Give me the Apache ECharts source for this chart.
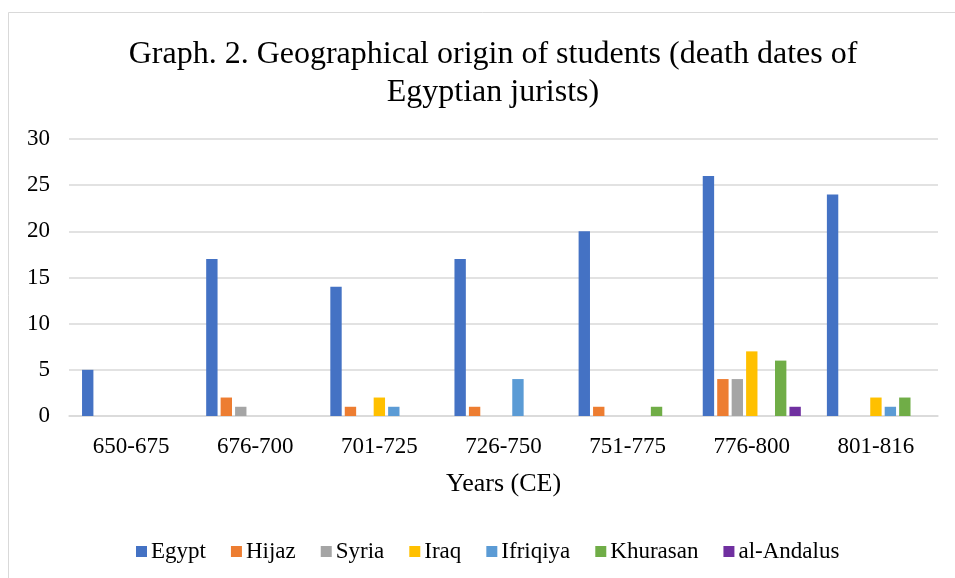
<!DOCTYPE html>
<html>
<head>
<meta charset="utf-8">
<script src="https://cdn.jsdelivr.net/npm/echarts@6/dist/echarts.min.js"></script>
<style>
html,body{margin:0;padding:0;background:#fff;}
#c{width:955px;height:578px;}
</style>
</head>
<body>
<div id="c"></div>
<script>
const categories = ['650-675','676-700','701-725','726-750','751-775','776-800','801-816'];
const egypt    = [5, 17, 14, 17, 20, 26, 24];
const hijaz    = [0, 2, 1, 1, 1, 4, 0];
const syria    = [0, 1, 0, 0, 0, 4, 0];
const iraq     = [0, 0, 2, 0, 0, 7, 2];
const ifriqiya = [0, 0, 1, 4, 0, 0, 1];
const khurasan = [0, 0, 0, 0, 1, 6, 2];
const andalus  = [0, 0, 0, 0, 0, 1, 0];
const yTicks = [0, 5, 10, 15, 20, 25, 30];

const seriesDefs = [
  ['Egypt', egypt, '#4472C4'],
  ['Hijaz', hijaz, '#ED7D31'],
  ['Syria', syria, '#A5A5A5'],
  ['Iraq', iraq, '#FFC000'],
  ['Ifriqiya', ifriqiya, '#5B9BD5'],
  ['Khurasan', khurasan, '#70AD47'],
  ['al-Andalus', andalus, '#7030A0']
];
const font = "'Liberation Serif','Times New Roman',serif";
const chart = echarts.init(document.getElementById('c'), null, {renderer:'canvas'});
chart.setOption({
  animation:false,
  backgroundColor:'#fff',
  textStyle:{fontFamily:font},
  graphic:[{type:'rect', shape:{x:8.5,y:12.5,width:1000,height:1000}, style:{fill:'none',stroke:'#d9d9d9',lineWidth:1}, silent:true}],
  title:{
    text:'Graph. 2. Geographical origin of students (death dates of\nEgyptian jurists)',
    left:488, top:31, textAlign:'center',
    textStyle:{fontFamily:font,fontSize:32,fontWeight:'normal',color:'#000',lineHeight:38}
  },
  legend:{
    left:131, top:535, itemWidth:11, itemHeight:11, itemGap:25,
    icon:'rect',
    textStyle:{fontFamily:font,fontSize:23,color:'#000',padding:[0,0,0,-1]},
    data:seriesDefs.map(s=>s[0])
  },
  grid:{left:69, right:17, top:139, bottom:162, containLabel:false},
  xAxis:{
    type:'category', data:categories,
    name:'Years (CE)', nameLocation:'middle', nameGap:55,
    nameTextStyle:{fontFamily:font,fontSize:26,color:'#000'},
    axisLine:{lineStyle:{color:'#d9d9d9',width:1.5}},
    axisTick:{show:false},
    axisLabel:{fontFamily:font,fontSize:23,color:'#000',margin:19}
  },
  yAxis:{
    type:'value', min:yTicks[0], max:yTicks[yTicks.length-1], interval:5,
    axisLine:{show:false}, axisTick:{show:false},
    splitLine:{lineStyle:{color:'#d9d9d9',width:1.5}},
    axisLabel:{fontFamily:font,fontSize:23,color:'#000',margin:19}
  },
  series:seriesDefs.map(s=>({
    name:s[0], type:'bar', data:s[1],
    itemStyle:{color:s[2]},
    barGap:'27%', barCategoryGap:'21%'
  }))
});
</script>
</body>
</html>
